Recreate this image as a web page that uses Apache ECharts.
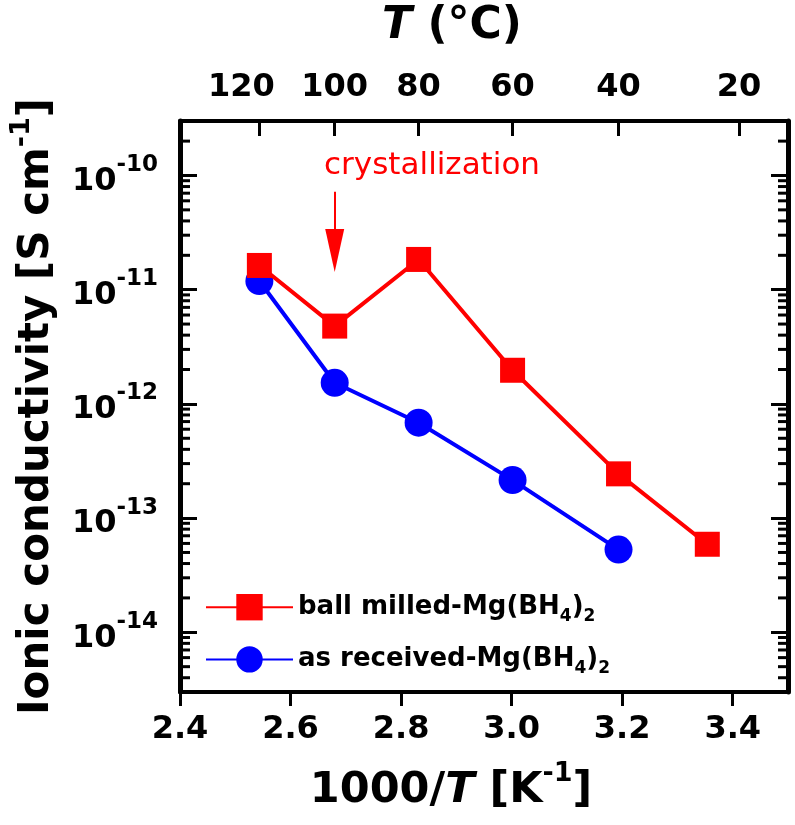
<!DOCTYPE html>
<html><head><meta charset="utf-8">
<script src="https://cdn.jsdelivr.net/npm/echarts@6/dist/echarts.min.js"></script>
<style>html,body{margin:0;padding:0;background:#fff}#c{width:795px;height:825px}</style>
</head><body><div id="c"></div>
<script>
// ---- data ----
const seriesNames = ['ball milled-Mg(BH4)2', 'as received-Mg(BH4)2'];
const invT_ballMilled = [2.5436, 2.6799, 2.8317, 3.0017, 3.1934, 3.3540];
const sigma_ballMilled = [1.63e-11, 4.8e-12, 1.84e-11, 1.97e-12, 2.44e-13, 5.9e-14];
const invT_asReceived = [2.5436, 2.6799, 2.8317, 3.0017, 3.1934];
const sigma_asReceived = [1.19e-11, 1.53e-12, 6.84e-13, 2.15e-13, 5.3e-14];
const xTicks = [2.4, 2.6, 2.8, 3.0, 3.2, 3.4];
const topTempTicksC = [120, 100, 80, 60, 40, 20];
const yDecades = [-15, -14, -13, -12, -11, -10];
const yMinorMantissas = [2, 3, 4, 5, 6, 7, 8, 9];
const annotationText = 'crystallization';
const annotationPos = [2.856, 1.22e-10];
const arrowX = 2.6799;
const arrowY = [7.2e-11, 2.2e-11];

// ---- config ----
const FONT = '"DejaVu Sans", "Liberation Sans", Arial, sans-serif';
const X_MIN = 2.4, X_MAX = 3.5;
const Y_MIN = 3e-15, Y_MAX = 3e-10;
const topTicks = topTempTicksC.map(t => 1000 / (t + 273.15));
const minorVals = [];
yDecades.forEach(d => yMinorMantissas.forEach(m => {
  const v = m * Math.pow(10, d);
  if (v > Y_MIN && v < Y_MAX) minorVals.push(v);
}));
const zip = (a, b) => a.map((v, i) => [v, b[i]]);
const chem = s => s.split(/(\d)/).filter(p => p !== '').map(p => /^\d$/.test(p) ? '{sub|' + p + '}' : '{t|' + p + '}').join('');

const xFrame = { show: true, onZero: false, lineStyle: { color: '#000', width: 4 } };
const yFrame = { show: true, onZero: false, lineStyle: { color: '#000', width: 5 } };
const tickStyle = { color: '#000', width: 3 };
const lblBase = { color: '#000', fontFamily: FONT, fontWeight: 'bold', fontSize: 32 };

// minor log ticks (2..9 x 10^n) drawn inward from the left/right frame, positioned through the axes
const minorTickSeries = (name, xVal, dir) => ({
  name: name, type: 'custom', xAxisIndex: 0, yAxisIndex: 0, silent: true, clip: false, z: 5,
  tooltip: { show: false },
  data: minorVals.map(v => [xVal, v]),
  renderItem: (params, api) => {
    const p = api.coord([api.value(0), api.value(1)]);
    return { type: 'rect', shape: { x: dir > 0 ? p[0] : p[0] - 10, y: p[1] - 1.5, width: 10, height: 3 }, style: { fill: '#000' } };
  }
});

const chart = echarts.init(document.getElementById('c'), null, { renderer: 'canvas', width: 795, height: 825 });
chart.setOption({
  animation: false,
  backgroundColor: '#fff',
  grid: { left: 180, right: 7, top: 121, bottom: 133, containLabel: false },
  legend: {
    data: [seriesNames[0], seriesNames[1]],
    orient: 'vertical', left: 200, top: 589,
    itemWidth: 87, itemHeight: 33, itemGap: 21,
    formatter: name => chem(name),
    textStyle: {
      color: '#000', fontFamily: FONT, fontWeight: 'bold', fontSize: 26,
      rich: {
        t: { color: '#000', fontFamily: FONT, fontWeight: 'bold', fontSize: 26, lineHeight: 36, verticalAlign: 'middle' },
        sub: { color: '#000', fontFamily: FONT, fontWeight: 'bold', fontSize: 17, lineHeight: 17, verticalAlign: 'bottom' }
      }
    }
  },
  xAxis: [
    {
      type: 'value', min: X_MIN, max: X_MAX, position: 'bottom',
      axisLine: xFrame,
      axisTick: { show: true, customValues: xTicks, inside: false, length: 14, lineStyle: tickStyle },
      axisLabel: Object.assign({ customValues: xTicks, margin: 22, formatter: v => v.toFixed(1) }, lblBase),
      splitLine: { show: false },
      name: '{n|1000/}{i|T}{n| [K}{s|-1}{n|]}',
      nameLocation: 'middle', nameGap: 68,
      nameTextStyle: {
        padding: [0, 66, 0, 0],
        rich: {
          n: { fontFamily: FONT, fontWeight: 'bold', fontSize: 43, color: '#000', lineHeight: 52, verticalAlign: 'bottom' },
          i: { fontFamily: FONT, fontWeight: 'bold', fontStyle: 'italic', fontSize: 43, color: '#000', lineHeight: 52, verticalAlign: 'bottom' },
          s: { fontFamily: FONT, fontWeight: 'bold', fontSize: 27, color: '#000', lineHeight: 32, verticalAlign: 'top' }
        }
      }
    },
    {
      type: 'value', min: X_MIN, max: X_MAX, position: 'top',
      axisLine: xFrame,
      axisTick: { show: true, customValues: topTicks, inside: true, length: 15, lineStyle: tickStyle },
      axisLabel: Object.assign({
        customValues: topTicks, margin: 17,
        formatter: v => {
          const c = Math.round(1000 / v - 273.15);
          return c === topTempTicksC[0] ? '{first|' + c + '}' : String(c);
        },
        rich: { first: { color: '#000', fontFamily: FONT, fontWeight: 'bold', fontSize: 32, padding: [0, 36, 0, 0] } }
      }, lblBase),
      splitLine: { show: false },
      name: '{i|T}{n| (°C)}',
      nameLocation: 'middle', nameGap: 72,
      nameTextStyle: {
        padding: [0, 64, 0, 0],
        rich: {
          n: { fontFamily: FONT, fontWeight: 'bold', fontSize: 44, color: '#000' },
          i: { fontFamily: FONT, fontWeight: 'bold', fontStyle: 'italic', fontSize: 44, color: '#000' }
        }
      }
    }
  ],
  yAxis: [
    {
      type: 'log', logBase: 10, min: Y_MIN, max: Y_MAX, position: 'left',
      axisLine: yFrame,
      axisTick: { show: true, inside: true, length: 17, lineStyle: tickStyle },
      minorTick: { show: false },
      axisLabel: {
        showMinLabel: false, showMaxLabel: false, margin: 22,
        formatter: v => '{b|10}{s|' + Math.round(Math.log10(v)) + '}',
        rich: {
          b: { fontFamily: FONT, fontWeight: 'bold', fontSize: 32, color: '#000', lineHeight: 44, verticalAlign: 'bottom' },
          s: { fontFamily: FONT, fontWeight: 'bold', fontSize: 23, color: '#000', lineHeight: 24, verticalAlign: 'top' }
        }
      },
      splitLine: { show: false },
      name: '{n|Ionic conductivity [S cm}{s|-1}{n|]}',
      nameLocation: 'middle', nameGap: 122,
      nameTextStyle: {
        rich: {
          n: { fontFamily: FONT, fontWeight: 'bold', fontSize: 42, color: '#000', lineHeight: 50, verticalAlign: 'bottom' },
          s: { fontFamily: FONT, fontWeight: 'bold', fontSize: 27, color: '#000', lineHeight: 30, verticalAlign: 'top' }
        }
      }
    },
    {
      type: 'log', logBase: 10, min: Y_MIN, max: Y_MAX, position: 'right',
      axisLine: yFrame,
      axisTick: { show: true, inside: true, length: 17, lineStyle: tickStyle },
      minorTick: { show: false },
      axisLabel: { show: false }, splitLine: { show: false }
    }
  ],
  series: [
    minorTickSeries('minorL', X_MIN, 1),
    minorTickSeries('minorR', X_MAX, -1),
    {
      name: seriesNames[1], type: 'line', xAxisIndex: 0, yAxisIndex: 0, z: 2,
      data: zip(invT_asReceived, sigma_asReceived),
      symbol: 'circle', symbolSize: 28, showAllSymbol: true,
      lineStyle: { color: '#0000ff', width: 4 },
      itemStyle: { color: '#0000ff' }
    },
    {
      name: seriesNames[0], type: 'line', xAxisIndex: 0, yAxisIndex: 0, z: 3,
      data: zip(invT_ballMilled, sigma_ballMilled),
      symbol: 'rect', symbolSize: 25, showAllSymbol: true,
      lineStyle: { color: '#ff0000', width: 4 },
      itemStyle: { color: '#ff0000' },
      markLine: {
        silent: true, animation: false,
        symbol: ['none', 'triangle'],
        label: { show: false },
        lineStyle: { color: '#ff0000', width: 2, type: 'solid' },
        data: [[
          { coord: [arrowX, arrowY[0]], symbol: 'none' },
          { coord: [arrowX, arrowY[1]], symbol: 'triangle', symbolSize: [19, 43] }
        ]]
      },
      markPoint: {
        silent: true, animation: false,
        symbol: 'rect', symbolSize: 1,
        itemStyle: { color: 'rgba(0,0,0,0)' },
        label: { show: true, position: 'inside', formatter: annotationText, color: '#ff0000', fontFamily: FONT, fontSize: 31 },
        data: [{ coord: annotationPos }]
      }
    }
  ]
});
</script>
</body></html>
